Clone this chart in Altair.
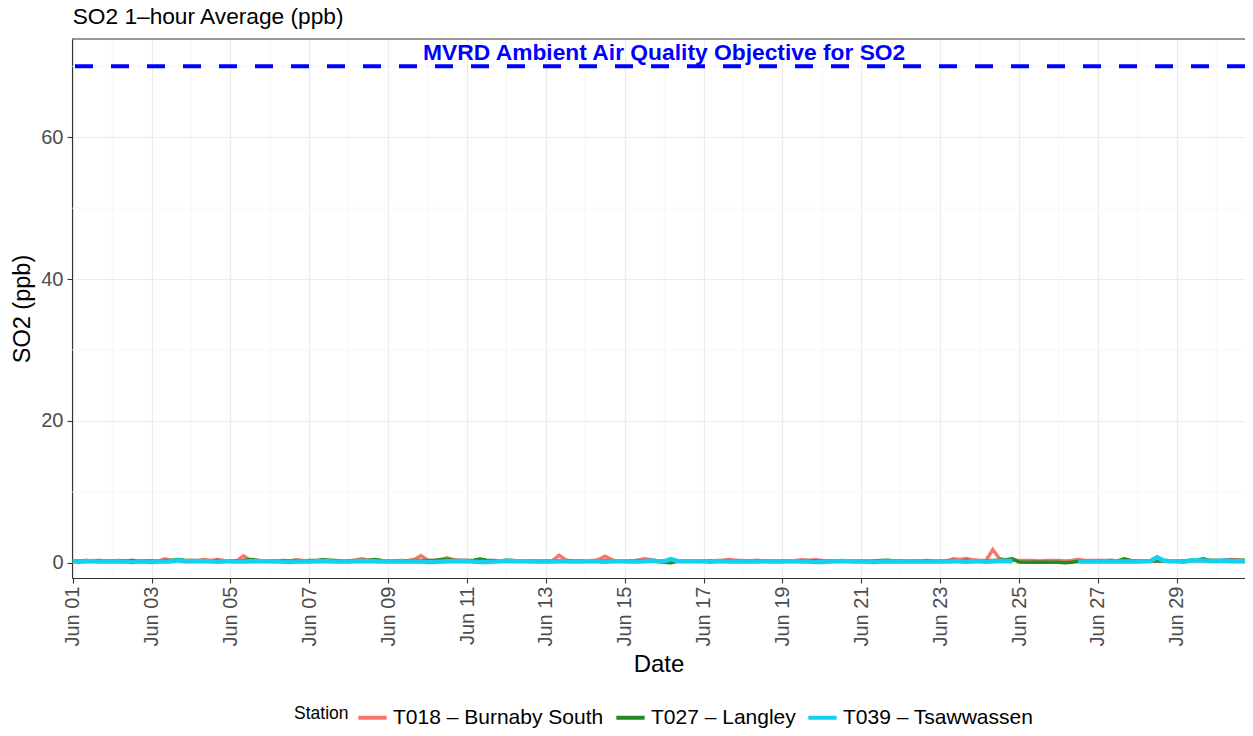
import altair as alt
import pandas as pd
import numpy as np

NaN = np.nan

# ---------------- data (4-hourly readings, 00/04/08/12/16/20 h, Jun 01 - Jun 30) ----------------
stations = ["T018 \u2013 Burnaby South", "T027 \u2013 Langley", "T039 \u2013 Tsawwassen"]
station_colors = ["#F8766D", "#228B22", "#12D0EE"]

burnaby = [
    0.25, 0.2, 0.2, 0.3, 0.25, 0.2,      # Jun 01
    0.2, 0.2, 0.25, 0.3, 0.25, 0.2,      # Jun 02
    0.2, 0.25, 0.5, 0.35, 0.3, 0.25,     # Jun 03
    0.3, 0.3, 0.45, 0.3, 0.45, 0.3,      # Jun 04
    0.25, 0.3, 0.95, 0.35, 0.3, 0.25,    # Jun 05
    0.2, 0.2, 0.25, 0.2, 0.4, 0.3,       # Jun 06
    0.2, 0.25, 0.25, 0.3, 0.25, 0.2,     # Jun 07
    0.25, 0.35, 0.55, 0.35, 0.3, 0.25,   # Jun 08
    0.2, 0.2, 0.25, 0.3, 0.45, 1.0,      # Jun 09
    0.35, 0.3, 0.45, 0.7, 0.4, 0.3,      # Jun 10
    0.3, 0.25, 0.3, 0.2, 0.2, 0.2,       # Jun 11
    0.2, 0.2, 0.2, 0.25, 0.2, 0.2,       # Jun 12
    0.2, 0.25, 1.05, 0.4, 0.2, 0.2,      # Jun 13
    0.2, 0.2, 0.45, 0.9, 0.4, 0.2,       # Jun 14
    0.2, 0.25, 0.35, 0.55, 0.4, 0.25,    # Jun 15
    0.2, 0.2, 0.2, 0.2, 0.25, 0.2,       # Jun 16
    0.2, 0.2, 0.3, 0.35, 0.45, 0.3,      # Jun 17
    0.3, 0.2, 0.35, 0.25, 0.2, 0.2,      # Jun 18
    0.2, 0.25, 0.3, 0.4, 0.3, 0.4,       # Jun 19
    0.3, 0.25, 0.2, 0.2, 0.2, 0.2,       # Jun 20
    0.2, 0.15, 0.15, 0.2, 0.15, 0.15,    # Jun 21
    0.15, 0.2, 0.2, 0.2, 0.2, 0.2,       # Jun 22
    0.2, 0.25, 0.55, 0.45, 0.6, 0.4,     # Jun 23
    0.3, 0.35, 1.85, 0.6, 0.35, 0.3,     # Jun 24
    0.3, 0.3, 0.3, 0.25, 0.3, 0.3,       # Jun 25
    0.3, 0.25, 0.3, 0.45, 0.3, 0.3,      # Jun 26
    0.3, 0.3, 0.3, 0.25, 0.2, 0.2,       # Jun 27
    0.2, 0.2, 0.2, 0.25, 0.2, 0.2,       # Jun 28
    0.2, 0.25, 0.3, 0.25, 0.3, 0.35,     # Jun 29
    0.3, 0.35, 0.45, 0.4, 0.3, 0.3,      # Jun 30
]

langley = [
    0.25, 0.2, 0.3, 0.25, 0.3, 0.25,     # Jun 01
    0.2, 0.3, 0.25, 0.3, 0.25, 0.25,     # Jun 02
    0.25, 0.2, 0.3, 0.3, 0.45, 0.35,     # Jun 03
    0.3, 0.25, 0.3, 0.25, 0.3, 0.25,     # Jun 04
    0.2, 0.25, 0.3, 0.45, 0.35, 0.25,    # Jun 05
    0.2, 0.25, 0.3, 0.25, 0.3, 0.25,     # Jun 06
    0.3, 0.3, 0.4, 0.35, 0.3, 0.25,      # Jun 07
    0.25, 0.3, 0.3, 0.35, 0.45, 0.3,     # Jun 08
    0.2, 0.25, 0.3, 0.25, 0.3, 0.3,      # Jun 09
    0.3, 0.3, 0.4, 0.45, 0.35, 0.3,      # Jun 10
    0.3, 0.35, 0.5, 0.35, 0.3, 0.25,     # Jun 11
    0.35, 0.3, 0.25, 0.25, 0.2, 0.2,     # Jun 12
    0.25, 0.2, 0.25, 0.3, 0.25, 0.25,    # Jun 13
    0.2, 0.3, 0.25, 0.25, 0.3, 0.25,     # Jun 14
    0.2, 0.25, 0.3, 0.25, 0.2, 0.2,      # Jun 15
    0.05, 0.0, 0.2, 0.25, 0.2, 0.2,      # Jun 16
    0.2, 0.25, 0.2, 0.3, 0.25, 0.2,      # Jun 17
    0.25, 0.2, 0.2, 0.25, 0.2, 0.2,      # Jun 18
    0.2, 0.25, 0.2, 0.25, 0.3, 0.25,     # Jun 19
    0.2, 0.2, 0.25, 0.2, 0.2, 0.2,       # Jun 20
    0.2, 0.2, 0.25, 0.3, 0.35, 0.25,     # Jun 21
    0.25, 0.2, 0.2, 0.25, 0.3, 0.2,      # Jun 22
    0.2, 0.25, 0.3, 0.25, 0.3, 0.25,     # Jun 23
    0.2, 0.25, 0.3, 0.35, 0.4, 0.55,     # Jun 24
    0.1, 0.05, 0.05, 0.1, 0.05, 0.05,    # Jun 25
    0.05, 0.0, 0.05, 0.2, 0.25, 0.2,     # Jun 26
    0.2, 0.25, 0.3, 0.25, 0.55, 0.3,     # Jun 27
    0.25, 0.2, 0.25, 0.3, 0.25, 0.2,     # Jun 28
    0.25, 0.2, 0.3, 0.35, 0.55, 0.3,     # Jun 29
    0.3, 0.25, 0.35, 0.3, 0.35, 0.3,     # Jun 30
]

tsawwassen = [
    0.2, 0.15, 0.2, 0.2, 0.15, 0.15,     # Jun 01
    0.15, 0.2, 0.15, 0.1, 0.15, 0.15,    # Jun 02
    0.1, 0.15, 0.15, 0.2, 0.35, 0.2,     # Jun 03
    0.2, 0.25, 0.2, 0.2, 0.15, 0.2,      # Jun 04
    0.2, 0.15, 0.15, 0.2, 0.2, 0.2,      # Jun 05
    0.2, 0.15, 0.15, 0.1, 0.15, 0.15,    # Jun 06
    0.15, 0.2, 0.2, 0.2, 0.15, 0.15,     # Jun 07
    0.15, 0.2, 0.25, 0.2, 0.2, 0.15,     # Jun 08
    0.15, 0.15, 0.2, 0.15, 0.15, 0.15,   # Jun 09
    0.1, 0.1, 0.15, 0.2, 0.2, 0.25,      # Jun 10
    0.2, 0.15, 0.1, 0.1, 0.15, 0.2,      # Jun 11
    0.25, 0.2, 0.2, 0.2, 0.15, 0.15,     # Jun 12
    0.15, 0.15, 0.2, 0.2, 0.15, 0.15,    # Jun 13
    0.2, 0.2, 0.2, 0.15, 0.2, 0.2,       # Jun 14
    0.2, 0.15, 0.15, 0.2, 0.3, 0.2,      # Jun 15
    0.2, 0.5, 0.25, 0.2, 0.2, 0.2,       # Jun 16
    0.2, 0.15, 0.2, 0.2, 0.15, 0.15,     # Jun 17
    0.2, 0.15, 0.15, 0.2, 0.15, 0.15,    # Jun 18
    0.15, 0.2, 0.2, 0.15, 0.15, 0.1,     # Jun 19
    0.1, 0.15, 0.2, 0.25, 0.2, 0.15,     # Jun 20
    0.15, 0.15, 0.1, 0.15, 0.15, 0.15,   # Jun 21
    0.15, 0.2, 0.15, 0.15, 0.15, 0.2,    # Jun 22
    0.15, 0.15, 0.2, 0.2, 0.15, 0.2,     # Jun 23
    0.2, 0.15, 0.2, 0.25, 0.25, 0.25,    # Jun 24
    NaN, NaN, NaN, NaN, NaN, NaN,        # Jun 25
    NaN, NaN, NaN, 0.15, 0.15, 0.15,     # Jun 26
    0.15, 0.2, 0.15, 0.15, 0.15, 0.15,   # Jun 27
    0.15, 0.2, 0.25, 0.75, 0.3, 0.2,     # Jun 28
    0.2, 0.15, 0.3, 0.3, 0.3, 0.25,      # Jun 29
    0.25, 0.3, 0.25, 0.2, 0.2, 0.2,      # Jun 30
]

objective_value = [70]
objective_label = ["MVRD Ambient Air Quality Objective for SO2"]
chart_title = ["SO2 1\u2013hour Average (ppb)"]
major_y = [0, 20, 40, 60]
minor_y = [10, 30, 50, 70]
major_days = list(range(1, 30, 2))   # Jun 01, 03, ..., 29
minor_days = list(range(2, 31, 2))   # Jun 02, 04, ..., 30

# ---------------- tables ----------------
times = pd.date_range("2023-06-01 00:00", periods=len(burnaby), freq="4h")
frames = []
for name, vals in zip(stations, [burnaby, langley, tsawwassen]):
    frames.append(pd.DataFrame({"time": times, "value": vals, "station": name}))
df = pd.concat(frames, ignore_index=True)

minor_x_df = pd.DataFrame({"time": [pd.Timestamp(2023, 6, d) for d in minor_days]})
minor_y_df = pd.DataFrame({"value": minor_y})
obj_df = pd.DataFrame({"value": objective_value})
label_df = pd.DataFrame({"time": [pd.Timestamp(2023, 6, 16)], "value": objective_value,
                         "label": objective_label})
title_df = pd.DataFrame({"label": chart_title})

W, H = 1173, 539
FONT = "Liberation Sans"

x_enc = alt.X(
    "time:T",
    title="Date",
    scale=alt.Scale(domain=[alt.DateTime(year=2023, month=5, date=31, hours=23, minutes=34),
                            alt.DateTime(year=2023, month=6, date=30, hours=17, minutes=31)]),
    axis=alt.Axis(
        values=[alt.DateTime(year=2023, month=6, date=d) for d in major_days],
        format="%b %d", labelAngle=270, labelFontSize=20, labelColor="#4D4D4D",
        labelFlush=False, labelOverlap=False, labelPadding=3,
        tickSize=5, tickColor="#333333", tickWidth=1.1,
        domainColor="#333333", domainWidth=1.1,
        grid=True, gridColor="#EBEBEB", gridWidth=1.2,
        titleFontSize=24, titleColor="black", titleFontWeight="normal", titlePadding=6,
    ),
)
y_enc = alt.Y(
    "value:Q",
    title="SO2 (ppb)",
    scale=alt.Scale(domain=[-2.16, 73.86], nice=False, zero=False),
    axis=alt.Axis(
        values=major_y, labelFontSize=20, labelColor="#4D4D4D", labelPadding=4,
        tickSize=5, tickColor="#333333", tickWidth=1.1,
        domainColor="#333333", domainWidth=1.1,
        grid=True, gridColor="#EBEBEB", gridWidth=1.2,
        titleFontSize=23.5, titleColor="black", titleFontWeight="normal", titlePadding=6,
    ),
)

color_enc = alt.Color(
    "station:N",
    title="Station",
    scale=alt.Scale(domain=stations, range=station_colors),
    legend=alt.Legend(
        orient="none", legendX=222, legendY=662, direction="horizontal",
        titleOrient="left", titleAnchor="middle", titleBaseline="middle",
        symbolType="stroke", symbolStrokeWidth=4, symbolSize=800,
        labelFontSize=21, titleFontSize=17.5, labelColor="black", titleColor="black",
        titleFontWeight="normal", labelOffset=4, columnPadding=4, titlePadding=7,
        labelLimit=400,
    ),
)

minor_x = alt.Chart(minor_x_df).mark_rule(color="#F2F2F2", strokeWidth=0.7).encode(x=x_enc)
minor_yr = alt.Chart(minor_y_df).mark_rule(color="#F2F2F2", strokeWidth=0.7).encode(y=y_enc)

lines = []
widths = [3.5, 3.5, 4.5]
for name, w in zip(stations, widths):
    lines.append(
        alt.Chart(df).transform_filter(alt.datum.station == name)
        .mark_line(strokeWidth=w, clip=True, invalid="break-paths-show-domains")
        .encode(x=x_enc, y=y_enc, color=color_enc)
    )

objective = alt.Chart(obj_df).mark_rule(color="#0000FF", strokeWidth=4, strokeDash=[18, 18]).encode(y=y_enc)
obj_text = alt.Chart(label_df).mark_text(
    color="#0000FF", fontWeight="bold", fontSize=22.8, font=FONT, align="center",
    baseline="alphabetic", dy=-6,
).encode(x=x_enc, y=y_enc, text="label:N")

title_text = alt.Chart(title_df).mark_text(
    color="black", fontSize=22.7, font=FONT, align="left", baseline="alphabetic",
).encode(x=alt.value(0.7), y=alt.value(-15), text="label:N")

top_border = alt.Chart(title_df).mark_rule(color="#333333", strokeWidth=1.1).encode(
    x=alt.value(0), x2=alt.value(W), y=alt.value(0))

chart = alt.layer(
    minor_x, minor_yr, *lines, objective, obj_text, title_text, top_border
).properties(
    width=W, height=H,
    padding={"left": 64, "top": 31, "right": 0, "bottom": 150},
    autosize=alt.AutoSizeParams(type="none"),
    background="white",
).configure(font=FONT).configure_view(strokeWidth=0)

chart.save("out.html", embed_options={"renderer": "svg", "actions": False})
